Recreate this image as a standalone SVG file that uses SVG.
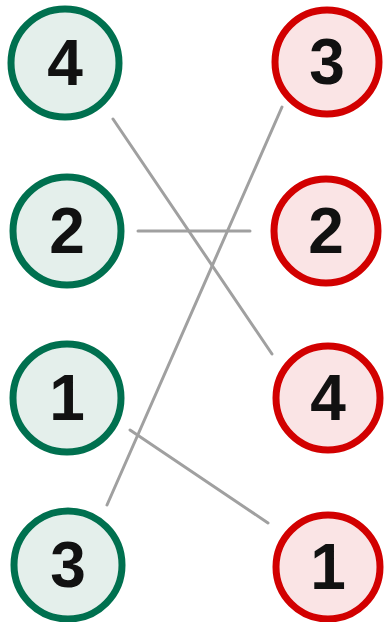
<svg xmlns="http://www.w3.org/2000/svg" width="384" height="622" viewBox="0 0 384 622">
<style>
.l circle{fill:#e4efeb;stroke:#00704f;stroke-width:7}
.r circle{fill:#fae4e5;stroke:#d20000;stroke-width:7}
text{font-family:"Liberation Sans","DejaVu Sans",sans-serif;font-size:64px;font-weight:bold;fill:#111;text-anchor:middle;dominant-baseline:central}
.c line{stroke:#a0a0a0;stroke-width:3;stroke-linecap:round}
</style>
<rect width="384" height="622" fill="#fff"/>
<g id="connectors" class="c">
<line x1="113" y1="119" x2="272" y2="354"/>
<line x1="138" y1="231" x2="250" y2="231"/>
<line x1="282" y1="107" x2="107" y2="505"/>
<line x1="130" y1="430" x2="268" y2="523"/>
</g>
<g id="L4" class="l"><circle cx="65" cy="63" r="54"/><text x="65" y="63">4</text></g>
<g id="L2" class="l"><circle cx="67" cy="231" r="54"/><text x="67" y="231">2</text></g>
<g id="L1" class="l"><circle cx="67" cy="398" r="54"/><text x="67" y="398">1</text></g>
<g id="L3" class="l"><circle cx="68" cy="565" r="54"/><text x="68" y="565">3</text></g>
<g id="R3" class="r"><circle cx="327" cy="62" r="52"/><text x="327" y="62">3</text></g>
<g id="R2" class="r"><circle cx="326" cy="231" r="52"/><text x="326" y="231">2</text></g>
<g id="R4" class="r"><circle cx="328" cy="398" r="52"/><text x="328" y="398">4</text></g>
<g id="R1" class="r"><circle cx="328" cy="567" r="52"/><text x="328" y="567">1</text></g>
</svg>
